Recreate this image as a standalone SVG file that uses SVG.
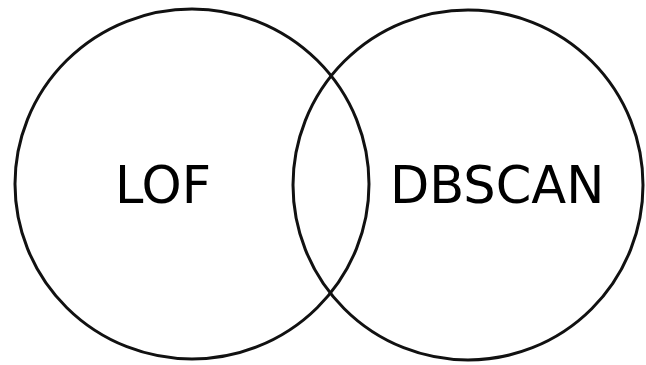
<svg xmlns="http://www.w3.org/2000/svg" width="646" height="365" viewBox="0 0 646 365">
<style>
.set{fill:none;stroke:#111;stroke-width:3}
.lbl{font-family:"DejaVu Sans",sans-serif;font-size:51px;fill:#000}
</style>
<rect width="646" height="365" fill="#fff"/>
<g id="lof">
<ellipse class="set" cx="192" cy="184" rx="177" ry="175"/>
<text class="lbl" x="115" y="203">LOF</text>
</g>
<g id="dbscan">
<ellipse class="set" cx="468" cy="185" rx="175" ry="175"/>
<text class="lbl" x="390" y="203">DBSCAN</text>
</g>
<g id="connectors"></g>
</svg>
